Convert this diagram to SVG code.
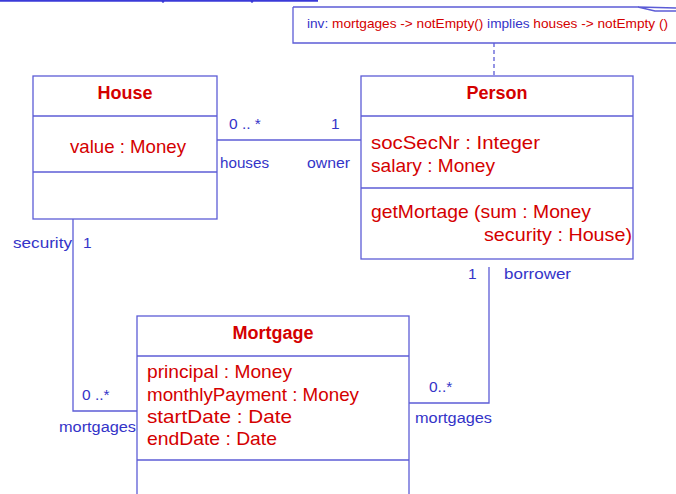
<svg xmlns="http://www.w3.org/2000/svg" width="676" height="494" viewBox="0 0 676 494">
<style>
.box{fill:#fff;stroke:#5c5cd6;stroke-width:1.3}
.ln{fill:none;stroke:#5c5cd6;stroke-width:1.3}
.dash{fill:none;stroke:#5c5cd6;stroke-width:1.3;stroke-dasharray:4 3}
.t{font-family:"Liberation Sans",Arial,sans-serif;font-size:18.5px;fill:#d40000}
.tb{font-family:"Liberation Sans",Arial,sans-serif;font-size:18px;font-weight:bold;fill:#d40000}
.lb{font-family:"Liberation Sans",Arial,sans-serif;font-size:15.5px;fill:#3434c8}
.nt{font-family:"Liberation Sans",Arial,sans-serif;font-size:13px;fill:#d40000}
.nb{fill:#3434c8}
</style>
<rect width="676" height="494" fill="#fff"/>
<g id="topedge">
<line x1="0" y1="0.8" x2="318" y2="0.8" stroke="#3a3ad8" stroke-width="1.8"/>
<circle cx="163" cy="1.5" r="1.3" fill="#3a3ad8"/>
<circle cx="252" cy="1.5" r="1.3" fill="#3a3ad8"/>
</g>
<g id="note">
<path class="ln" d="M293 7 V43 H680 M293 7 H638 L676 8 M638 7 L655 11 H680"/>
<text class="nt" x="307" y="28" textLength="361" lengthAdjust="spacingAndGlyphs"><tspan class="nb">inv:</tspan> mortgages -&gt; notEmpty() <tspan class="nb">implies</tspan> houses -&gt; notEmpty ()</text>
</g>
<g id="connectors">
<line class="dash" x1="494" y1="43" x2="494" y2="75"/>
<line class="ln" x1="217" y1="140" x2="361" y2="140"/>
<polyline class="ln" points="73,219 73,411 137,411"/>
<polyline class="ln" points="489,267 489,403 409,403"/>
<text class="lb" x="229" y="129">0 .. *</text>
<text class="lb" x="331" y="129">1</text>
<text class="lb" x="220" y="168" textLength="49" lengthAdjust="spacingAndGlyphs">houses</text>
<text class="lb" x="307" y="168" textLength="43" lengthAdjust="spacingAndGlyphs">owner</text>
<text class="lb" x="13" y="248" textLength="59" lengthAdjust="spacingAndGlyphs">security</text>
<text class="lb" x="83" y="248">1</text>
<text class="lb" x="82" y="400">0 ..*</text>
<text class="lb" x="59" y="432" textLength="77" lengthAdjust="spacingAndGlyphs">mortgages</text>
<text class="lb" x="468" y="279">1</text>
<text class="lb" x="504" y="279" textLength="67" lengthAdjust="spacingAndGlyphs">borrower</text>
<text class="lb" x="429" y="392">0..*</text>
<text class="lb" x="415" y="423" textLength="77" lengthAdjust="spacingAndGlyphs">mortgages</text>
</g>
<g id="House">
<rect class="box" x="33" y="76" width="184" height="143"/>
<line class="ln" x1="33" y1="116" x2="217" y2="116"/>
<line class="ln" x1="33" y1="172" x2="217" y2="172"/>
<text class="tb" x="125" y="99" text-anchor="middle">House</text>
<text class="t" x="70" y="153" textLength="116" lengthAdjust="spacingAndGlyphs">value : Money</text>
</g>
<g id="Person">
<rect class="box" x="361" y="76" width="272" height="183"/>
<line class="ln" x1="361" y1="116" x2="633" y2="116"/>
<line class="ln" x1="361" y1="188" x2="633" y2="188"/>
<text class="tb" x="497" y="99" text-anchor="middle">Person</text>
<text class="t" x="371" y="149" textLength="169" lengthAdjust="spacingAndGlyphs">socSecNr : Integer</text>
<text class="t" x="371" y="172" textLength="124" lengthAdjust="spacingAndGlyphs">salary : Money</text>
<text class="t" x="371" y="218" textLength="220" lengthAdjust="spacingAndGlyphs">getMortage (sum : Money</text>
<text class="t" x="484" y="241" textLength="148" lengthAdjust="spacingAndGlyphs">security : House)</text>
</g>
<g id="Mortgage">
<rect class="box" x="137" y="316" width="272" height="190"/>
<line class="ln" x1="137" y1="356" x2="409" y2="356"/>
<line class="ln" x1="137" y1="460" x2="409" y2="460"/>
<text class="tb" x="273" y="339" text-anchor="middle">Mortgage</text>
<text class="t" x="147" y="378" textLength="145" lengthAdjust="spacingAndGlyphs">principal : Money</text>
<text class="t" x="147" y="401" textLength="212" lengthAdjust="spacingAndGlyphs">monthlyPayment : Money</text>
<text class="t" x="147" y="423" textLength="145" lengthAdjust="spacingAndGlyphs">startDate : Date</text>
<text class="t" x="147" y="445" textLength="130" lengthAdjust="spacingAndGlyphs">endDate : Date</text>
</g>
</svg>
